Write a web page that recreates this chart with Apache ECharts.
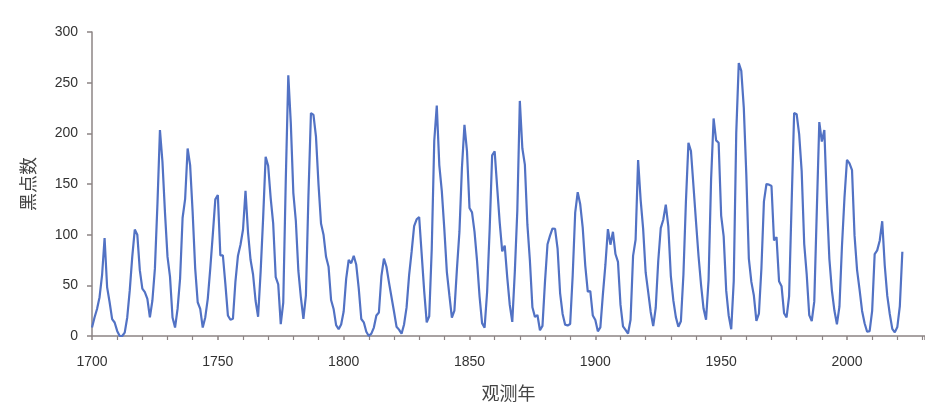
<!DOCTYPE html>
<html>
<head>
<meta charset="utf-8">
<script src="https://cdn.jsdelivr.net/npm/echarts@6/dist/echarts.min.js"></script>
<style>html,body{margin:0;padding:0;background:#fff}#c{width:925px;height:407px}</style>
</head>
<body>
<div id="c"></div>
<script>
const startYear = 1700;
const sunspots = [
8.3,18.3,26.7,38.3,60.0,96.7,48.3,33.3,16.7,13.3,
5.0,0.0,0.0,3.3,18.3,45.0,78.3,105.0,100.0,65.0,
46.7,43.3,36.7,18.3,35.0,66.7,130.0,203.3,171.7,121.7,
78.3,58.3,18.3,8.3,26.7,56.7,116.7,135.0,185.0,168.3,
121.7,66.7,33.3,26.7,8.3,18.3,36.7,66.7,100.0,134.8,
139.0,79.5,79.7,51.2,20.3,16.0,17.0,54.0,79.3,90.0,
104.8,143.2,102.0,75.2,60.7,34.8,19.0,63.0,116.3,176.8,
168.0,136.0,110.8,58.0,51.0,11.7,33.0,154.2,257.3,209.8,
141.3,113.5,64.2,38.0,17.0,40.2,138.2,220.0,218.2,196.8,
149.8,111.0,100.0,78.2,68.3,35.5,26.7,10.7,6.8,11.3,
24.2,56.7,75.0,71.8,79.2,70.3,46.8,16.8,13.5,4.2,
0.0,2.3,8.3,20.3,23.2,59.0,76.3,68.3,52.9,38.5,
24.2,9.2,6.3,2.2,11.4,28.2,59.9,83.0,108.5,115.2,
117.4,80.8,44.3,13.4,19.5,85.8,192.7,227.3,168.7,143.0,
105.5,63.3,40.3,18.1,25.1,65.8,102.7,166.3,208.3,182.5,
126.3,122.0,102.7,74.1,39.0,12.7,8.2,43.4,104.4,178.3,
182.2,146.6,112.1,83.5,89.2,57.8,30.7,13.9,62.8,123.6,
232.0,185.3,169.2,110.1,74.5,28.3,18.9,20.7,5.7,10.0,
53.7,90.5,99.0,106.1,105.8,86.3,42.4,21.8,11.2,10.4,
11.8,59.5,121.7,142.0,130.0,106.6,69.4,43.8,44.4,20.2,
15.7,4.6,8.5,40.8,70.1,105.5,90.1,102.8,80.9,73.2,
30.9,9.5,6.0,2.4,16.1,79.0,95.0,173.6,134.6,105.7,
62.7,43.5,23.7,9.7,27.9,74.0,106.5,114.7,129.7,108.2,
59.4,35.1,18.6,9.2,14.6,60.2,132.8,190.6,182.6,148.0,
113.0,79.2,50.8,27.1,16.1,55.3,154.3,214.7,193.0,190.7,
118.9,98.3,45.0,20.1,6.6,54.2,200.7,269.3,261.7,225.1,
159.0,76.4,53.4,39.9,15.0,22.0,66.8,132.9,150.0,149.4,
148.0,94.4,97.6,54.1,49.2,22.5,18.4,39.3,131.0,220.1,
218.9,198.9,162.4,91.0,60.5,20.6,14.8,33.9,123.0,211.1,
191.8,203.3,133.0,76.1,44.9,25.1,11.6,28.9,88.3,136.3,
173.9,170.4,163.6,99.3,65.3,45.8,24.7,12.6,4.2,4.8,
24.9,80.8,84.5,94.0,113.3,69.8,39.8,21.7,7.0,3.6,
8.8,29.6,83.2
];
const years = sunspots.map((v, i) => startYear + i);
const seriesData = years.map((y, i) => [y, sunspots[i]]);
const xTitle = '观测年';
const yTitle = '黑点数';

const chart = echarts.init(document.getElementById('c'));
const axisCol = '#8c8484';
const labelCol = '#333333';
chart.setOption({
  backgroundColor: '#ffffff',
  animation: false,
  grid: {left: 92, right: 0, top: 32, bottom: 69},
  xAxis: {
    type: 'value', min: 1700, max: 2031, interval: 50,
    name: xTitle, nameLocation: 'middle', nameGap: 48,
    nameTextStyle: {fontSize: 18, color: '#444', fontFamily: 'Noto Sans CJK SC'},
    axisLine: {lineStyle: {color: axisCol, width: 1.5}},
    axisTick: {show: true, length: 4, inside: false, lineStyle: {color: axisCol, width: 1.5}},
    minorTick: {show: true, splitNumber: 5, length: 4, lineStyle: {color: axisCol, width: 1.2}},
    axisLabel: {color: labelCol, fontSize: 14, margin: 19, showMaxLabel: false,
      fontFamily: 'Liberation Sans', formatter: v => String(v)},
    splitLine: {show: false}
  },
  yAxis: {
    type: 'value', min: 0, max: 300, interval: 50,
    name: yTitle, nameLocation: 'middle', nameGap: 55, nameRotate: 90,
    nameTextStyle: {fontSize: 18, color: '#444', fontFamily: 'Noto Sans CJK SC'},
    axisLine: {show: true, lineStyle: {color: axisCol, width: 1.5}},
    axisTick: {show: true, length: 5, lineStyle: {color: axisCol, width: 1.5}},
    axisLabel: {color: labelCol, fontSize: 14, margin: 14, fontFamily: 'Liberation Sans',
      formatter: v => String(v)},
    splitLine: {show: false}
  },
  series: [{
    type: 'line', data: seriesData, showSymbol: false, smooth: false,
    lineStyle: {color: '#5272c4', width: 2.2},
    clip: false
  }]
});
</script>
</body>
</html>
